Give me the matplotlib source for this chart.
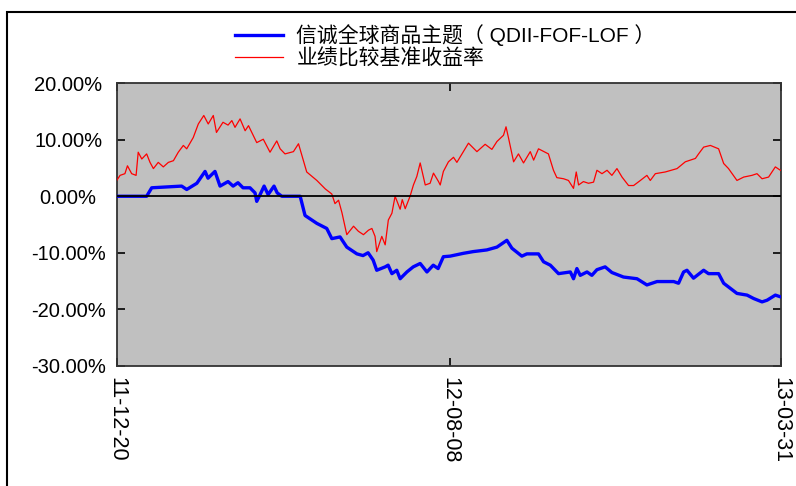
import matplotlib
matplotlib.use("Agg")
import matplotlib.pyplot as plt
from matplotlib.patches import Rectangle

plt.rcParams['font.family'] = ['Liberation Sans', 'Noto Sans CJK SC', 'DejaVu Sans']

# x positions are trading-day indices (0 = 11-12-20, 315 = 13-03-31)
fund_x = [0, 14.2, 16.6, 30.8, 33.2, 38.0, 41.9, 43.3, 46.6, 49.0, 52.8, 55.2, 57.5, 59.9,
          63.2, 65.6, 66.4, 68.0, 69.9, 71.8, 74.6, 76.1, 78.3, 87.0, 89.3, 94.9, 99.6,
          102.0, 105.9, 109.1, 113.9, 116.8, 119.2, 121.6, 123.3, 127.3, 128.7, 130.5,
          132.8, 134.4, 137.6, 140.6, 143.9, 147.1, 150.1, 152.4, 154.9, 158.1, 164.4,
          169.0, 175.5, 180.3, 185.0, 187.4, 192.1, 194.5, 200.0, 202.4, 205.6, 209.5,
          215.1, 216.6, 218.2, 219.8, 223.0, 225.3, 227.7, 231.6, 234.8, 240.3, 246.7,
          251.4, 256.2, 264.1, 266.4, 268.8, 270.4, 273.5, 278.3, 280.6, 285.4, 287.8,
          294.1, 298.9, 302.0, 306.0, 308.4, 312.3, 314.7]
fund_y = [0.0, 0.0, 1.5, 1.8, 1.2, 2.3, 4.4, 3.2, 4.4, 1.8, 2.6, 1.8, 2.4, 1.5,
          1.5, 0.6, -0.9, 0.3, 1.8, 0.3, 1.8, 0.6, 0.0, 0.0, -3.4, -4.8, -5.7,
          -7.5, -7.2, -9.0, -10.2, -10.5, -10.0, -11.3, -13.1, -12.5, -12.2, -13.7,
          -13.1, -14.6, -13.4, -12.5, -11.9, -13.4, -12.2, -12.8, -10.7, -10.6, -10.1,
          -9.8, -9.5, -9.0, -7.8, -9.2, -10.6, -10.2, -10.2, -11.6, -12.2, -13.7,
          -13.4, -14.6, -12.8, -14.0, -13.4, -14.0, -13.0, -12.5, -13.5, -14.3, -14.6,
          -15.7, -15.1, -15.1, -15.4, -13.4, -13.1, -14.5, -13.1, -13.7, -13.7, -15.4,
          -17.2, -17.5, -18.1, -18.7, -18.4, -17.5, -17.8]

bench_x = [0, 1.6, 3.9, 5.1, 7.1, 9.2, 10.2, 11.9, 14.2, 15.8, 17.4, 19.7, 22.1, 24.5,
           26.9, 29.2, 31.6, 33.2, 36.3, 38.7, 41.3, 43.4, 45.8, 47.3, 50.4, 52.8, 54.6,
           56.1, 58.5, 60.9, 62.5, 66.4, 69.5, 72.7, 75.9, 77.5, 79.8, 83.8, 86.2, 90.1,
           94.9, 98.9, 102.0, 103.5, 105.2, 106.8, 109.1, 112.3, 114.6,
           117.0, 119.4, 121.0, 122.5, 123.3, 125.7, 127.3, 128.8, 130.5, 132.0, 134.4,
           135.4, 136.8, 139.1, 140.7, 142.3, 143.9, 146.3, 148.6, 150.2, 152.6, 153.4,
           154.9, 157.3, 159.7, 161.3, 164.4, 166.8, 170.8, 174.7, 177.9, 180.3, 183.4,
           184.6, 185.8, 188.2, 190.5, 192.9, 196.1, 197.7, 200.0, 204.7, 207.1, 208.7,
           211.9, 214.2, 216.6, 217.9, 219.0, 221.3, 223.7, 226.1, 227.7, 230.1, 232.5,
           234.8, 237.2, 239.6, 242.7, 245.1, 248.3, 251.4, 253.0, 255.4, 260.1, 265.7,
           269.6, 274.4, 275.9, 278.3, 281.5, 285.4, 287.8, 290.1, 294.1, 297.3, 301.2,
           303.6, 306.0, 309.1, 312.3, 314.7]
bench_y = [2.8, 3.7, 4.0, 5.4, 4.0, 3.7, 7.8, 6.6, 7.5, 6.0, 4.9, 6.0, 5.2, 6.0,
           6.3, 7.8, 9.0, 8.4, 10.4, 12.8, 14.3, 12.8, 14.3, 11.3, 13.1, 12.6, 13.4,
           12.2, 13.7, 11.6, 12.5, 9.5, 10.1, 7.8, 9.8, 8.4, 7.5, 7.9, 9.3, 4.3,
           2.8, 1.3, 0.4, -1.3, -0.7, -2.9, -6.8, -5.3, -6.2,
           -6.8, -6.0, -5.7, -7.1, -9.8, -7.1, -8.6, -4.2, -3.0, 0.0, -2.3,
           -0.6, -2.2, 0.0, 2.0, 3.5, 5.9, 2.0, 2.3, 4.1, 2.6, 2.0,
           4.4, 6.1, 6.9, 6.0, 7.9, 9.4, 7.9, 9.2, 8.3, 9.7, 10.8,
           12.3, 10.3, 6.1, 7.5, 5.9, 7.9, 6.4, 8.4, 7.5, 4.6, 3.3,
           3.1, 2.8, 1.4, 4.3, 2.0, 2.6, 2.3, 2.5, 4.6, 4.0, 4.6,
           3.7, 4.9, 3.4, 1.9, 1.9, 2.8, 3.7, 2.8, 4.0, 4.3, 4.9,
           6.1, 6.7, 7.5, 8.7, 9.0, 8.4, 5.8, 4.9, 2.8, 3.4, 3.7,
           4.0, 3.1, 3.4, 5.2, 4.6]

tick_pos = [0, 158, 315]
tick_labels = ['11-12-20', '12-08-08', '13-03-31']
y_ticks = [-30, -20, -10, 0, 10, 20]
series_names = ['信诚全球商品主题（ QDII-FOF-LOF ）', '业绩比较基准收益率']

fig = plt.figure(figsize=(7.96, 4.86), dpi=100)
ax = fig.add_axes([0.1466, 0.2475, 0.8346, 0.5811])
ax.set_facecolor('#C0C0C0')

l1, = ax.plot(fund_x, fund_y, color='#0000FF', lw=2.4, zorder=3)
l2, = ax.plot(bench_x, bench_y, color='#FF0000', lw=0.9, zorder=4)
ax.axhline(0, color='black', lw=1.3, zorder=5)

ax.set_xlim(0, 315)
ax.set_ylim(-30, 20)
ax.set_yticks(y_ticks)
ax.set_yticklabels(['%.2f%%' % v for v in y_ticks])
ax.set_xticks(tick_pos)
ax.set_xticklabels(tick_labels, rotation=-90)

ax.tick_params(axis='y', direction='in', length=6, width=1.2, left=True, right=True,
               labelsize=14.5, pad=35, colors='black')
ax.tick_params(axis='x', direction='in', length=6, width=1.2, bottom=True, top=True,
               labelsize=15.5, pad=8, colors='black')
for lab in ax.get_yticklabels():
    lab.set_horizontalalignment('center')

for s in ax.spines.values():
    s.set_color('#333333')
    s.set_linewidth(1.3)

fig.legend([l1, l2], series_names, loc='upper left', bbox_to_anchor=(0.295, 0.950),
           frameon=False, fontsize=15, handlelength=2.3, handletextpad=0.65,
           labelspacing=0.1, borderpad=0.0, borderaxespad=0.0)

fig.add_artist(Rectangle((7 / 796, -0.2), 1.2, 0.2 + 1 - 12 / 486,
                         transform=fig.transFigure, fill=False, lw=1.5,
                         edgecolor='black', clip_on=False))

fig.savefig('out.png', dpi=100)
